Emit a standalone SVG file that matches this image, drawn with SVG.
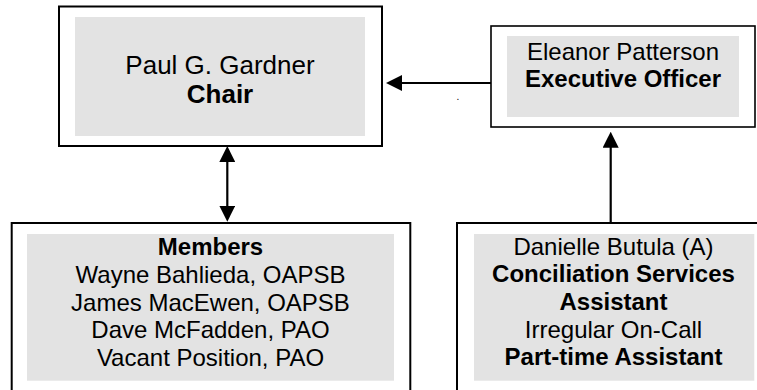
<svg xmlns="http://www.w3.org/2000/svg" width="757" height="390" viewBox="0 0 757 390">
<style>
.outer{fill:#ffffff;stroke:#000000;stroke-width:2}
.inner{fill:#e3e3e3;stroke:none}
text{font-family:"Liberation Sans",Arial,sans-serif;font-size:24px;fill:#000000;text-anchor:middle}
.b{font-weight:bold}
.conn{stroke:#000000;stroke-width:2.2;fill:none}
</style>
<defs>
<marker id="arrow" viewBox="0 0 16 16" refX="12" refY="8" markerWidth="16" markerHeight="16" markerUnits="userSpaceOnUse" orient="auto-start-reverse">
<path d="M0,0 L16,8 L0,16 z" fill="#000000"/>
</marker>
</defs>
<rect width="757" height="390" fill="#ffffff"/>
<g id="chair">
<rect class="outer" x="59" y="6.5" width="323" height="139.5" stroke-width="2.4"/>
<rect class="inner" x="75" y="17" width="290" height="119"/>
<text x="220" y="73.5" font-size="26" style="font-size:26px">Paul G. Gardner</text>
<text class="b" x="220" y="103" style="font-size:26px">Chair</text>
</g>
<g id="executive">
<rect class="outer" x="491" y="26" width="264" height="101" style="stroke-width:1.6"/>
<rect class="inner" x="507" y="36" width="232" height="81"/>
<text x="623" y="59.5">Eleanor Patterson</text>
<text class="b" x="623" y="87">Executive Officer</text>
</g>
<g id="members">
<rect class="outer" x="11.7" y="223" width="398.6" height="190"/>
<rect class="inner" x="27" y="234" width="367" height="146.7"/>
<text class="b" x="210.5" y="254.5">Members</text>
<text x="210.5" y="282.7">Wayne Bahlieda, OAPSB</text>
<text x="210.5" y="310.7">James MacEwen, OAPSB</text>
<text x="210.5" y="338.2">Dave McFadden, PAO</text>
<text x="210.5" y="366">Vacant Position, PAO</text>
</g>
<g id="assistant">
<rect class="outer" x="457" y="223" width="320" height="190"/>
<rect class="inner" x="474" y="234" width="280.3" height="146.7"/>
<text x="613.5" y="255">Danielle Butula (A)</text>
<text class="b" x="613.5" y="281.8">Conciliation Services</text>
<text class="b" x="613.5" y="310">Assistant</text>
<text x="613.5" y="337.7">Irregular On-Call</text>
<text class="b" x="613.5" y="365">Part-time Assistant</text>
</g>
<g id="connectors">
<line class="conn" x1="491" y1="83" x2="390" y2="83" marker-end="url(#arrow)"/>
<line class="conn" x1="227.3" y1="150" x2="227.3" y2="217.7" marker-start="url(#arrow)" marker-end="url(#arrow)"/>
<line class="conn" x1="610.7" y1="223" x2="610.7" y2="135.7" marker-end="url(#arrow)"/>
</g>
<text x="458" y="100" style="font-size:10px">.</text>
</svg>
